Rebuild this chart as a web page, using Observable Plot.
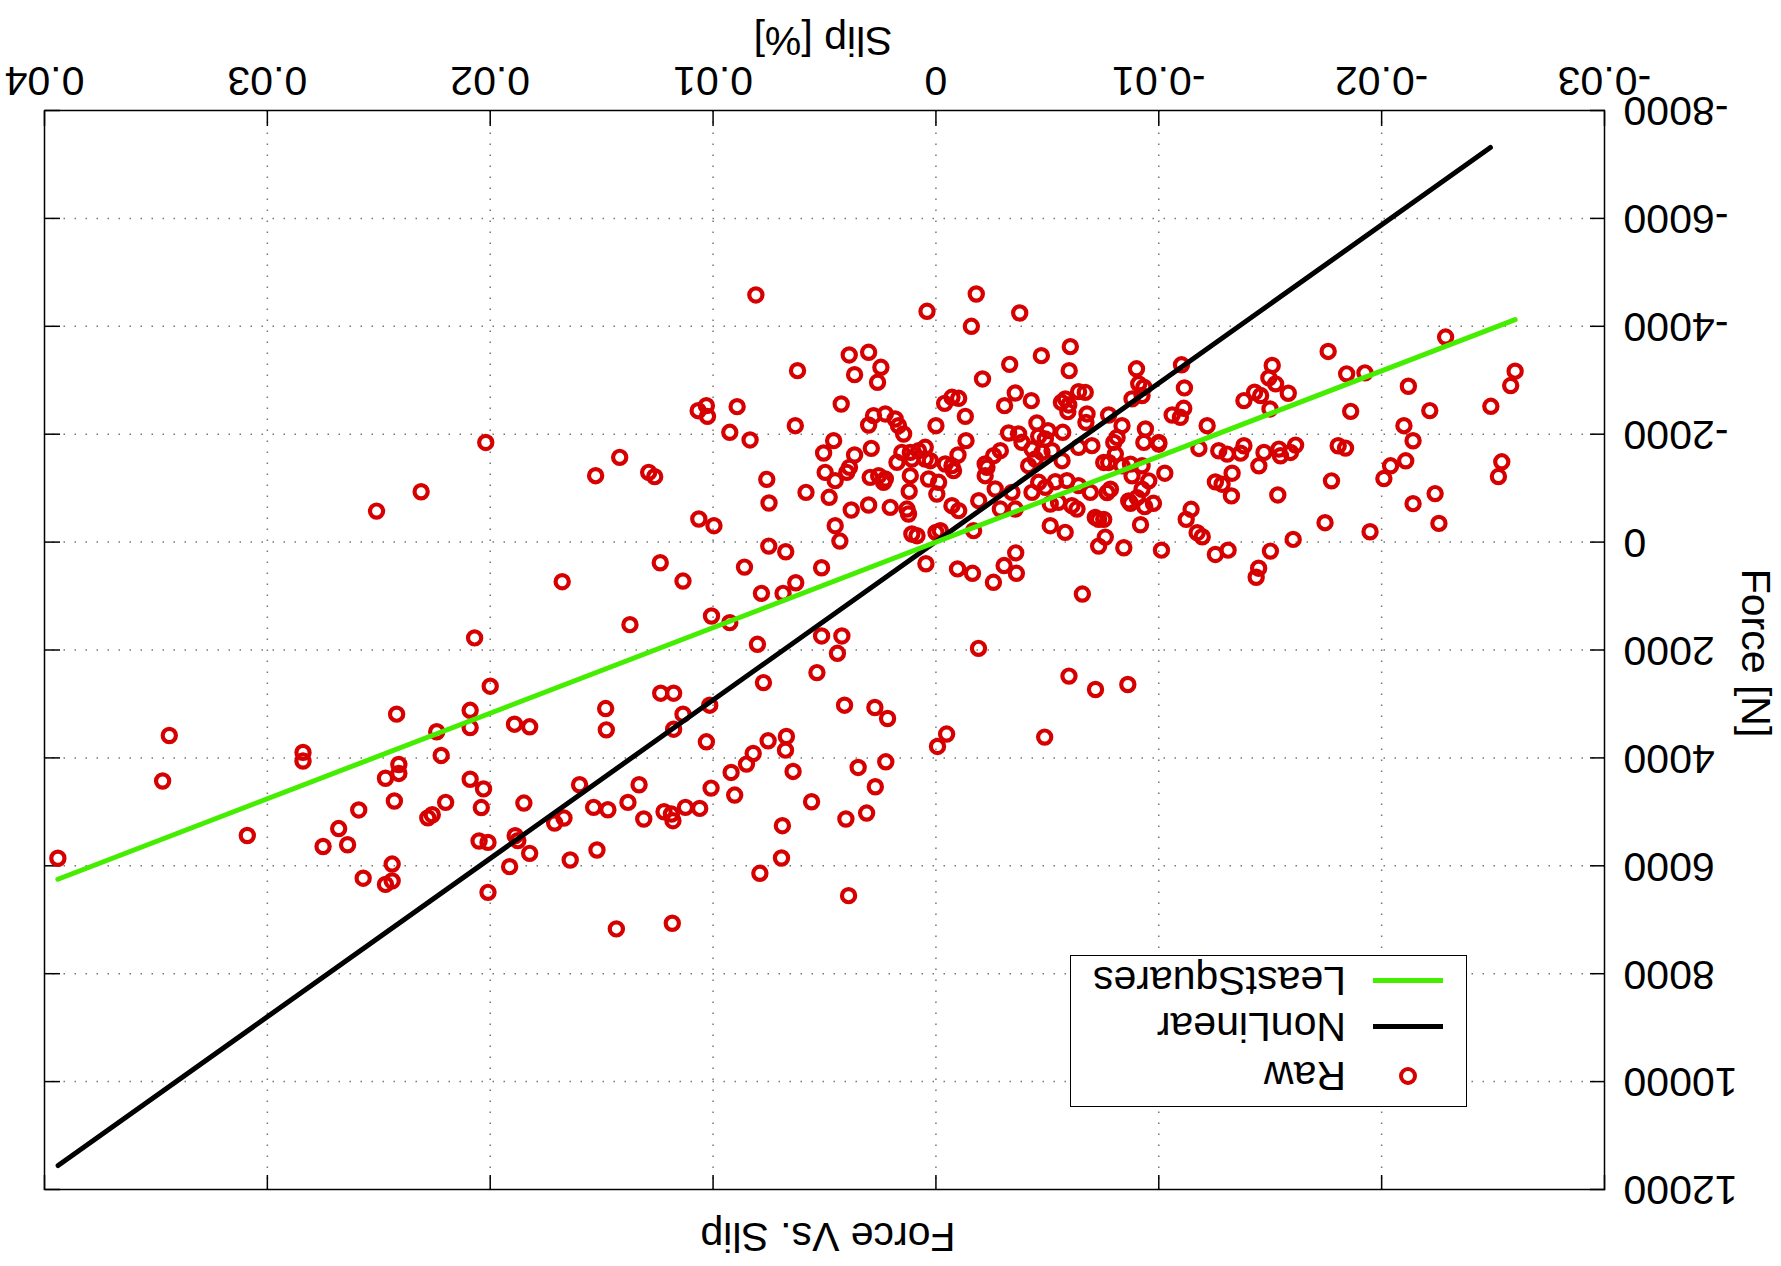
<!DOCTYPE html>
<html>
<head>
<meta charset="utf-8">
<script src="https://cdn.jsdelivr.net/npm/d3@7"></script>
<script src="https://cdn.jsdelivr.net/npm/@observablehq/plot@0.6"></script>
<style>
  html, body { margin: 0; padding: 0; background: #fff; }
  #wrap { position: relative; width: 1781px; height: 1266px; background: #fff;
          transform: rotate(180deg); transform-origin: 50% 50%; overflow: hidden;
          font-family: "Liberation Sans", Arial, Helvetica, sans-serif; color: #000; }
  #wrap svg { position: absolute; left: 0; top: 0; }
  .lbl { position: absolute; font-size: 41px; line-height: 41px; white-space: nowrap; }
  #legend { position: absolute; left: 314px; top: 159px; width: 397px; height: 152px;
            box-sizing: border-box; border: 1.5px solid #000; background: #fff; }
  .row { position: absolute; left: 0; width: 100%; height: 41px; }
  .sample { position: absolute; left: 23px; width: 70px; height: 5px; top: 18px; }
  .circ { position: absolute; left: 49px; top: 11.5px; width: 10px; height: 10px;
          border: 4px solid #d60000; border-radius: 50%; }
  .rtxt { position: absolute; left: 120px; top: 0; font-size: 41px; line-height: 41px; }
</style>
</head>
<body>
<div id="wrap"></div>
<script>
// ---- data ----
const xTicks = [-0.03, -0.02, -0.01, 0, 0.01, 0.02, 0.03, 0.04];
const yTicks = [-8000, -6000, -4000, -2000, 0, 2000, 4000, 6000, 8000, 10000, 12000];
const seriesNames = ["Raw", "NonLinear", "LeastSquares"];

const nonLinearSlip = [-0.02488, 0.03939];
const nonLinearForce = [-7314, 11555];
const leastSquaresSlip = [-0.02599, 0.0394];
const leastSquaresForce = [-4123, 6249];

// raw measurements: [slip %, force N]
const rawPoints = [
  [0.0202,-1847],[0.0231,-933],[0.0251,-575],[0.0207,1776],[0.0200,2671],[0.0242,3189],[0.0209,3118],
  [0.0209,3438],[0.0224,3515],[0.0222,3955],[0.0344,3585],[0.0347,4428],[0.0284,3898],[0.0284,4058],
  [0.0241,4122],[0.0241,4288],[0.0247,4377],[0.0209,4396],[0.0203,4575],[0.0243,4799],[0.0259,4965],
  [0.0220,4824],[0.0204,4920],[0.0228,5112],[0.0226,5054],[0.0268,5310],[0.0309,5438],[0.0275,5642],
  [0.0264,5610],[0.0205,5540],[0.0201,5566],[0.0394,5860],[0.0244,5968],[0.0257,6230],[0.0244,6281],
  [0.0247,6345],[0.0201,6492],
  [0.00431,-19],[0.00045,401],[0.0075,74],[0.00674,179],[0.00859,463],[0.00513,475],[0.01237,383],
  [0.01135,722],[0.01677,734],[0.00629,753],[0.00783,950],[0.00686,950],[0.01373,1530],[0.01007,1370],
  [0.00925,1493],[0.00801,1894],[0.00513,1740],[0.00422,1740],[0.00442,2061],[0.00534,2419],[0.00774,2604],
  [0.0041,3023],[0.00274,3066],[0.00217,3270],[0.01235,2801],[0.01177,2801],[0.01482,3085],[0.01479,3480],
  [0.01891,3375],[0.01823,3424],[0.01135,3190],[0.01015,3023],[0.01177,3468],[0.0103,3702],[0.00753,3683],
  [0.00671,3603],[0.00675,3856],[0.0082,3918],[0.0085,4115],[0.00919,4270],[0.00641,4251],[0.00349,4177],
  [0.00225,4072],[0.00272,4535],[0.00558,4813],[0.00404,5133],[0.00311,5022],[0.00689,5257],[0.00693,5855],
  [0.0079,6139],[0.00392,6553],[0.01009,4560],[0.00903,4689],[0.0106,4936],[0.01124,4917],[0.0122,4998],
  [0.01187,5041],[0.0118,5164],[0.01311,5133],[0.01382,4825],[0.01332,4498],[0.01472,4961],[0.01536,4917],
  [0.01599,4498],[0.01669,5115],[0.01711,5207],[0.01849,4837],[0.01888,5442],[0.01876,5534],[0.01823,5769],
  [0.01913,6016],[0.01641,5892],[0.01521,5707],[0.01434,7170],[0.01183,7065],
  [-0.00097,497],[-0.00164,578],[-0.00258,745],[-0.00306,435],[-0.00358,199],[-0.00361,578],[-0.00657,963],
  [-0.00191,1969],[-0.00597,2484],[-0.00716,2732],[-0.00861,2639],[-0.00048,3558],[-0.00007,3788],
  [-0.00488,3614],[-0.01448,484],[-0.01437,652],
  [0.00808,-4581],[0.01067,-2436],[0.0103,-2529],[0.01025,-2331],[0.00892,-2511],[0.00925,-2035],
  [0.00834,-1893],[0.01419,-1571],[0.01527,-1231],[0.01289,-1293],[0.01262,-1213],[0.00759,-1163],
  [0.00749,-725],[0.01064,-428],[0.00996,-304],
  [-0.00181,-4599],[0.0004,-4278],[-0.00376,-4247],[-0.00159,-4000],[-0.00603,-3623],[-0.00473,-3456],
  [-0.00331,-3295],[-0.00598,-3178],[-0.00209,-3024],[0.00621,-3178],[0.00389,-3469],[0.00302,-3518],
  [0.00247,-3240],[0.00365,-3104],[0.00262,-2962],[0.00425,-2560],[0.00631,-2158],[0,-2158],
  [-0.00039,-2572],[-0.00072,-2684],[-0.00102,-2665],[-0.00132,-2331],[-0.00308,-2529],[-0.00356,-2764],
  [-0.00428,-2622],[-0.00563,-2591],[-0.00581,-2653],[-0.00596,-2542],[-0.0064,-2789],[-0.0067,-2776],
  [-0.00592,-2418],[-0.00678,-2375],[-0.00673,-2220],[-0.00453,-2208],[-0.00569,-2035],[-0.00503,-2066],
  [-0.00461,-1961],[-0.00491,-1911],[-0.00326,-2022],[-0.00371,-2004],[-0.00386,-1849],[-0.007,-1788],
  [-0.0064,-1757],[-0.00431,-1726],[-0.00476,-1664],[-0.00446,-1540],[-0.00521,-1695],[-0.00566,-1509],
  [-0.00289,-1695],[-0.00259,-1602],[-0.00221,-1448],[-0.00229,-1386],[-0.00135,-1880],[-0.00099,-1614],
  [-0.00072,-1417],[-0.00042,-1448],[-0.00079,-1324],[0.00025,-1509],[0.00048,-1540],[0.00078,-1695],
  [0.00048,-1757],[0.00033,-1170],[-0.00012,-1108],[-0.00004,-891],[0.00115,-1664],[0.00153,-1664],
  [0.00175,-1479],[0.00115,-1231],[0.0012,-941],[0.0013,-613],[0.00123,-521],[0.00205,-644],[0.00302,-688],
  [0.0038,-595],[0.00452,-304],[0.00479,-830],[0.00583,-922],[0.00497,-1293],[0.00452,-1139],[0.004,-1293],
  [0.00388,-1386],[0.00504,-1652],[0.00459,-1880],[0.00365,-1615],[0.0029,-1738],[0.00302,-2171],
  [0.0028,-2344],[0.00227,-2375],[0.00183,-2282],[0.00168,-2158],[0.00145,-2004],[0.00295,-1200],
  [0.00257,-1231],[0.00235,-1108],[0.00227,-1170],[0.00108,-1540],[0.00108,-150],[0.00085,-119],[0,-181],
  [-0.0002,-212],[-0.00169,-212],[-0.00072,-675],[-0.00102,-583],[-0.00192,-768],[-0.00266,-984],
  [-0.00289,-613],[-0.00341,-922],[-0.00356,-613],[-0.00431,-922],[-0.00461,-1108],[-0.00491,-1015],
  [-0.00536,-1120],[-0.00588,-1139],[-0.00513,-706],[-0.0055,-737],[-0.0061,-675],[-0.00633,-613],
  [-0.00513,-304],[-0.0058,-181],[-0.00715,-459],[-0.00693,-922],[-0.0064,-1046],[-0.00416,-1417],
  [-0.00221,-1231],
  [-0.02287,-3801],[-0.0176,-3534],[-0.01843,-3119],[-0.01925,-3137],[-0.0212,-2889],[-0.02599,-3168],
  [-0.02579,-2902],[-0.0249,-2517],[-0.02216,-2437],[-0.01861,-2424],[-0.021,-2158],[-0.02141,-1879],
  [-0.02108,-1507],[-0.0204,-1414],[-0.0201,-1178],[-0.02539,-1488],[-0.02524,-1215],[-0.0224,-899],
  [-0.02141,-713],[-0.02257,-347],[-0.01948,-192],[-0.01775,-1135],[-0.01746,-360],[-0.01603,-50],
  [-0.01501,167],[-0.01534,-874],[-0.01805,-1786],[-0.01838,-1742],[-0.01509,-3274],[-0.01494,-3044],
  [-0.01524,-2933],[-0.01581,-2759],[-0.01457,-2716],[-0.0143,-2778],[-0.01382,-2623],[-0.01499,-2468],
  [-0.01217,-2158],[-0.0118,-1736],[-0.01269,-1693],[-0.01307,-1631],[-0.01367,-1649],[-0.01382,-1786],
  [-0.01449,-1414],[-0.01472,-1662],[-0.01539,-1724],[-0.01546,-1600],[-0.01591,-1662],[-0.01614,-1798],
  [-0.01329,-1277],[-0.01254,-1116],[-0.01284,-1073],[-0.01326,-856],[-0.01145,-608],[-0.01123,-422],
  [-0.01172,-174],[-0.01195,-99],[-0.01311,149],[-0.01254,229],[-0.01027,-1277],[-0.01012,149],
  [-0.00918,-322],[-0.00843,105],[-0.0073,74],[-0.0076,-93],[-0.00976,-719],[-0.00937,-657],[-0.00873,-719],
  [-0.0073,-422],[-0.00753,-422],[-0.009,-3212],[-0.0091,-2933],[-0.00933,-2871],[-0.0088,-2654],
  [-0.00925,-2716],[-0.01102,-3286],[-0.01115,-2858],[-0.01112,-2480],[-0.01097,-2313],[-0.0106,-2356],
  [-0.00835,-2158],[-0.00775,-2356],[-0.0094,-2096],[-0.00933,-1848],[-0.01,-1848],[-0.01,-1817],
  [-0.00813,-1941],[-0.00798,-1848],[-0.00805,-1631],[-0.00775,-1476],[-0.00753,-1476],[-0.00835,-1414],
  [-0.00873,-1445],[-0.00925,-1414],[-0.0088,-1228],[-0.00955,-1135],[-0.00925,-980],[-0.00768,-918],
  [-0.00783,-980],[-0.00865,-763],[-0.00903,-825]
];

// ---- layout / style ----
const W = 1781, H = 1266;
const mL = 176, mR = 45, mT = 76, mB = 111;
const xDom = [-0.03, 0.04], yDom = [-8000, 12000];
const RED = "#d60000", GREEN = "#45ee00", BLACK = "#000";
const tickPx = 15;
const tickDy = (yDom[1] - yDom[0]) * tickPx / (H - mT - mB);
const tickDx = (xDom[1] - xDom[0]) * tickPx / (W - mL - mR);

const nonLinear = nonLinearSlip.map((s, i) => ({slip: s, force: nonLinearForce[i]}));
const leastSquares = leastSquaresSlip.map((s, i) => ({slip: s, force: leastSquaresForce[i]}));
const xInner = xTicks.filter(d => d > xDom[0] && d < xDom[1]);
const yInner = yTicks.filter(d => d > yDom[0] && d < yDom[1]);
const gridStyle = {stroke: "#777", strokeOpacity: 1, strokeWidth: 1.5, strokeDasharray: "1.5,9.5"};

const chart = Plot.plot({
  width: W, height: H,
  marginLeft: mL, marginRight: mR, marginTop: mT, marginBottom: mB,
  x: {domain: xDom},
  y: {domain: yDom},
  style: {fontFamily: '"Liberation Sans", Arial, Helvetica, sans-serif', fontSize: "41px", color: "#000", background: "transparent", overflow: "visible"},
  marks: [
    Plot.ruleX(xInner, {x: d => d, ...gridStyle}),
    Plot.ruleY(yInner, {y: d => d, ...gridStyle}),
    Plot.ruleX(xTicks, {x: d => d, y1: yDom[0], y2: yDom[0] + tickDy, stroke: BLACK, strokeWidth: 1.5}),
    Plot.ruleX(xTicks, {x: d => d, y1: yDom[1], y2: yDom[1] - tickDy, stroke: BLACK, strokeWidth: 1.5}),
    Plot.ruleY(yTicks, {y: d => d, x1: xDom[0], x2: xDom[0] + tickDx, stroke: BLACK, strokeWidth: 1.5}),
    Plot.ruleY(yTicks, {y: d => d, x1: xDom[1], x2: xDom[1] - tickDx, stroke: BLACK, strokeWidth: 1.5}),
    Plot.axisX({ticks: xTicks, tickSize: 0, tickPadding: 14, tickFormat: d => String(d), label: null, fontSize: 41}),
    Plot.axisY({ticks: yTicks, tickSize: 0, tickPadding: 19, tickFormat: d => String(d), label: null, fontSize: 41}),
    Plot.dot(rawPoints, {x: d => d[0], y: d => d[1], r: 6.6, stroke: RED, strokeWidth: 4.2, fill: "none"}),
    Plot.line(nonLinear, {x: "slip", y: "force", stroke: BLACK, strokeWidth: 5, strokeLinecap: "round"}),
    Plot.line(leastSquares, {x: "slip", y: "force", stroke: GREEN, strokeWidth: 5, strokeLinecap: "round"}),
    Plot.frame({stroke: BLACK, strokeWidth: 1.5})
  ]
});

const wrap = document.getElementById("wrap");
wrap.appendChild(chart);

function addLabel(text, css) {
  const d = document.createElement("div");
  d.className = "lbl";
  d.textContent = text;
  Object.assign(d.style, css);
  wrap.appendChild(d);
  return d;
}
// title, axis labels
addLabel("Force Vs. Slip", {left: "953px", top: "9px", transform: "translateX(-50%)"});
addLabel("Slip [%]", {left: "958px", top: "1205px", transform: "translateX(-50%)"});
addLabel("Force [N]", {left: "26px", top: "613px", transform: "translate(-50%,-50%) rotate(-90deg)"});

// legend
const legend = document.createElement("div");
legend.id = "legend";
wrap.appendChild(legend);
const rowY = [30, 79, 125]; // row centres inside box
const samples = [
  {type: "circle", color: RED},
  {type: "line", color: BLACK},
  {type: "line", color: GREEN}
];
seriesNames.forEach((name, i) => {
  const row = document.createElement("div");
  row.className = "row";
  row.style.top = (rowY[i] - 20.5) + "px";
  const s = document.createElement("div");
  if (samples[i].type === "circle") {
    s.className = "circ";
  } else {
    s.className = "sample";
    s.style.background = samples[i].color;
  }
  row.appendChild(s);
  const t = document.createElement("div");
  t.className = "rtxt";
  t.textContent = name;
  row.appendChild(t);
  legend.appendChild(row);
});
</script>
</body>
</html>
